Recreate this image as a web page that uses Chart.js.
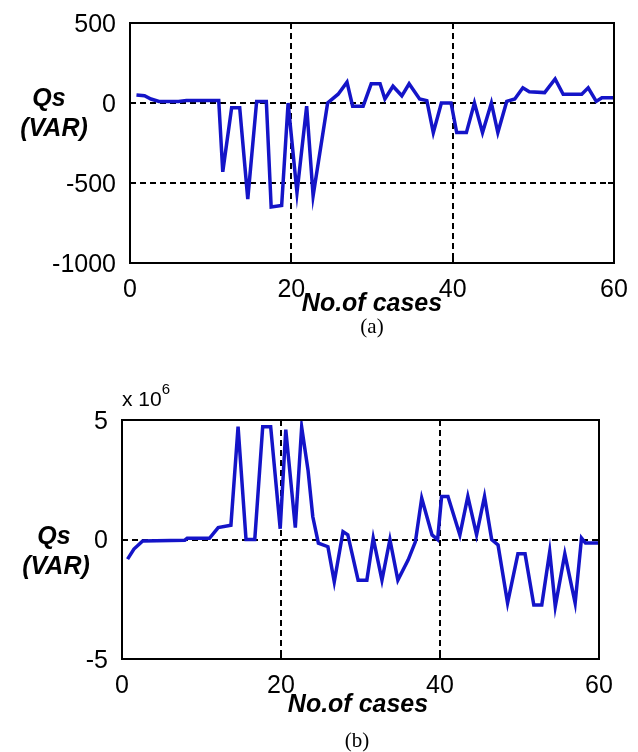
<!DOCTYPE html>
<html>
<head>
<meta charset="utf-8">
<script src="https://cdn.jsdelivr.net/npm/chart.js@4.4.0/dist/chart.umd.min.js"></script>
<style>
  body { margin: 0; background: #fff; width: 638px; height: 752px; position: relative; overflow: hidden; }
  canvas { position: absolute; left: 0; }
  .lbl { position: absolute; transform: translate(-50%, -50%); white-space: nowrap; color: #000; }
  .ax { font: italic bold 25px "Liberation Sans", Arial, sans-serif; }
  .cap { font: 21px "Liberation Serif", "Times New Roman", serif; }
  .exp { font: 21px "Liberation Sans", Arial, sans-serif; transform: translate(0, -50%); }
  .exp sup { font-size: 15px; position: relative; top: -4px; }
</style>
</head>
<body>
<canvas id="chartA" width="638" height="330" style="top:0"></canvas>
<canvas id="chartB" width="638" height="340" style="top:380px"></canvas>

<div class="lbl ax" style="left:49px; top:97px">Qs</div>
<div class="lbl ax" style="left:54px; top:127px">(VAR)</div>
<div class="lbl ax" style="left:372px; top:302px">No.of cases</div>
<div class="lbl cap" style="left:372px; top:326px">(a)</div>

<div class="lbl exp" style="left:122px; top:397px">x 10<sup>6</sup></div>
<div class="lbl ax" style="left:54px; top:535px">Qs</div>
<div class="lbl ax" style="left:56px; top:565px">(VAR)</div>
<div class="lbl ax" style="left:358px; top:703px">No.of cases</div>
<div class="lbl cap" style="left:357px; top:740px">(b)</div>

<script>
"use strict";

// (a) turning points: case number and Qs in VAR
const caseA = [0.8, 1.8, 2.6, 3.6, 6, 7, 11, 11.5, 12.6, 13.6, 14.6, 15.7, 16.9, 17.5, 18.8, 19.6,
    20.7, 21.9, 22.7, 24.5, 25.8, 26.9, 27.6, 28.9, 29.9, 31, 31.6, 32.6, 33.7, 34.6, 35.9, 36.8,
    37.6, 38.6, 39.8, 40.5, 41.7, 42.7, 43.7, 44.8, 45.6, 46.7, 47.7, 48.7, 49.5, 51.4, 52.7, 53.7,
    56, 56.8, 57.8, 58.5, 60];
const qsA = [50, 45, 25, 10, 10, 15, 15, -430, -30, -30, -600, 10, 10, -650, -640, 0,
    -560, -20, -580, 0, 55, 130, -20, -20, 120, 120, 25, 105, 45, 120, 25, 15,
    -185, 0, 0, -185, -185, 0, -185, 0, -185, 10, 25, 95, 70, 65, 150, 55,
    55, 95, 10, 33, 33];

// (b) turning points: case number and Qs in VAR x 10^6
const caseB = [0.7, 1.5, 2.6, 7.9, 8.2, 11, 12.1, 13.7, 14.6, 15.6, 16.7, 17.7, 18.7, 19.9, 20.6,
    21.8, 22.6, 23.4, 24, 24.7, 25.9, 26.7, 27.8, 28.4, 29.7, 30.8, 31.6, 32.7, 33.7, 34.7, 36,
    36.9, 37.7, 39, 39.7, 40.2, 41, 42.5, 43.5, 44.6, 45.6, 46.5, 47.3, 48.5, 49.8, 50.7, 51.8,
    52.8, 53.8, 54.5, 55.7, 57, 57.8, 58.3, 60];
const qsB = [-0.82, -0.4, -0.06, -0.03, 0.05, 0.05, 0.5, 0.6, 4.72, 0, 0, 4.72, 4.72, 0.45, 4.6,
    0.5, 4.7, 2.9, 0.95, -0.15, -0.3, -1.77, 0.33, 0.2, -1.7, -1.7, 0.06, -1.7, 0, -1.7, -0.85,
    -0.1, 1.73, 0.19, 0, 1.8, 1.8, 0.19, 1.8, 0.2, 1.8, 0, -0.23, -2.66, -0.6, -0.6, -2.74,
    -2.74, -0.51, -2.8, -0.6, -2.66, 0.06, -0.15, -0.15];

const xTicks = [0, 20, 40, 60];
const yTicksA = [-1000, -500, 0, 500];
const yTicksB = [-5, 0, 5];

const tickFont = { family: "Liberation Sans", size: 25 };

// box round the plot and short inward ticks, like the original
const boxPlugin = {
    id: "box",
    afterDraw: function (chart) {
        const ctx = chart.ctx;
        const a = chart.chartArea;
        const sx = chart.scales.x;
        const sy = chart.scales.y;
        ctx.save();
        ctx.strokeStyle = "#000";
        ctx.lineWidth = 2;
        ctx.setLineDash([]);
        ctx.strokeRect(a.left, a.top, a.right - a.left, a.bottom - a.top);
        ctx.beginPath();
        sx.ticks.forEach(function (t) {
            const px = Math.round(sx.getPixelForValue(t.value));
            ctx.moveTo(px, a.bottom); ctx.lineTo(px, a.bottom - 6);
            ctx.moveTo(px, a.top); ctx.lineTo(px, a.top + 6);
        });
        sy.ticks.forEach(function (t) {
            const py = Math.round(sy.getPixelForValue(t.value));
            ctx.moveTo(a.left, py); ctx.lineTo(a.left + 6, py);
            ctx.moveTo(a.right, py); ctx.lineTo(a.right - 6, py);
        });
        ctx.stroke();
        ctx.restore();
    }
};

function makeChart(id, xs, values, yMin, yMax, yTicks, pad, yWidth, xHeight) {
    return new Chart(document.getElementById(id), {
        type: "line",
        data: {
            datasets: [{
                data: xs.map(function (c, i) { return { x: c, y: values[i] }; }),
                borderColor: "#1414c8",
                borderWidth: 3.5,
                pointRadius: 0,
                tension: 0,
                fill: false
            }]
        },
        options: {
            responsive: false,
            animation: false,
            devicePixelRatio: 1,
            layout: { padding: pad },
            plugins: { legend: { display: false }, tooltip: { enabled: false } },
            scales: {
                x: {
                    type: "linear",
                    min: 0,
                    max: 60,
                    afterBuildTicks: function (s) { s.ticks = xTicks.map(function (v) { return { value: v }; }); },
                    afterFit: function (s) { s.height = xHeight; s.paddingLeft = 0; s.paddingRight = 0; },
                    ticks: { font: tickFont, color: "#000", padding: 12, maxRotation: 0, autoSkip: false,
                        callback: function (v) { return String(v); } },
                    grid: { color: "#000", lineWidth: 2, drawTicks: false },
                    border: { display: false, dash: [6, 4] }
                },
                y: {
                    type: "linear",
                    min: yMin,
                    max: yMax,
                    afterBuildTicks: function (s) { s.ticks = yTicks.map(function (v) { return { value: v }; }); },
                    afterFit: function (s) { s.width = yWidth; s.paddingTop = 0; s.paddingBottom = 0; },
                    ticks: { font: tickFont, color: "#000", padding: 14, labelOffset: 2, autoSkip: false,
                        callback: function (v) { return String(v); } },
                    grid: { color: "#000", lineWidth: 2, drawTicks: false },
                    border: { display: false, dash: [6, 4] }
                }
            }
        },
        plugins: [boxPlugin]
    });
}

makeChart("chartA", caseA, qsA, -1000, 500, yTicksA, { top: 23, right: 24, left: 0, bottom: 0 }, 130, 67);
makeChart("chartB", caseB, qsB, -5, 5, yTicksB, { top: 40, right: 39, left: 0, bottom: 0 }, 122, 61);
</script>
</body>
</html>
